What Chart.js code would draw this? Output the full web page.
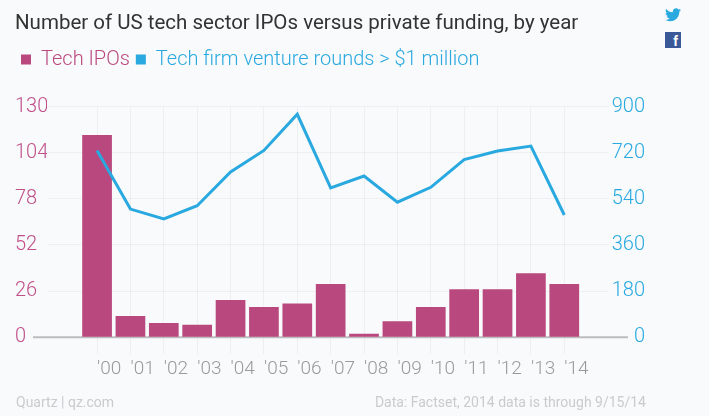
<!DOCTYPE html>
<html>
<head>
<meta charset="utf-8">
<script src="https://cdn.jsdelivr.net/npm/chart.js@4"></script>
<style>
    html, body { margin: 0; padding: 0; background: #f9fafb; }
    #wrap { position: relative; width: 709px; height: 416px; }
    #footLeft, #footRight {
        position: absolute; top: 394px; font: 14px Roboto, sans-serif; color: #c9cbcd;
    }
    #footLeft { left: 16px; }
    #footRight { right: 63px; }
    #tw { position: absolute; left: 665px; top: 8px; width: 16px; height: 14px; }
    #fb {
        position: absolute; left: 665px; top: 32px; width: 16px; height: 16px; background: #3b5998;
        color: #fff; font: bold 14px Arial, sans-serif; text-align: right; line-height: 19px; box-sizing: border-box; padding-right: 3px; overflow: hidden;
    }
</style>
</head>
<body>
<div id="wrap">
    <canvas id="chart" width="709" height="416"></canvas>
    <svg id="tw" viewBox="0 0 24 20"><path fill="#29a9e0" d="M24 2.4c-.9.4-1.8.6-2.8.8 1-.6 1.8-1.6 2.2-2.7-1 .6-2 1-3.1 1.2C19.3.7 18 0 16.6 0c-2.7 0-4.9 2.2-4.9 4.9 0 .4 0 .8.1 1.1C7.7 5.8 4.1 3.9 1.7.9c-.4.7-.7 1.6-.7 2.5 0 1.7.9 3.2 2.2 4.1-.8 0-1.6-.2-2.2-.6v.1c0 2.4 1.7 4.4 3.9 4.8-.4.1-.8.2-1.3.2-.3 0-.6 0-.9-.1.6 2 2.4 3.4 4.6 3.4-1.7 1.3-3.8 2.1-6.1 2.1-.4 0-.8 0-1.2-.1 2.2 1.4 4.8 2.2 7.5 2.2 9.1 0 14-7.5 14-14v-.6c1-.7 1.8-1.6 2.5-2.5z"/></svg>
    <div id="fb">f</div>
    <div id="footLeft">Quartz | qz.com</div>
    <div id="footRight">Data: Factset, 2014 data is through 9/15/14</div>
</div>
<script>
const years = ["'00", "'01", "'02", "'03", "'04", "'05", "'06", "'07", "'08", "'09", "'10", "'11", "'12", "'13", "'14"];
const techIPOs = [114, 12, 8, 7, 21, 17, 19, 30, 2, 9, 17, 27, 27, 36, 30];
const ventureRounds = [729, 500, 462, 513, 645, 729, 870, 583, 629, 527, 585, 693, 727, 746, 477];
const iposTicks = [0, 26, 52, 78, 104, 130];
const roundsTicks = [0, 180, 360, 540, 720, 900];

const pink = '#b9487f';
const blue = '#29a9e0';
const font = 'Roboto, sans-serif';

// gives the legend some room under it before the plot starts
const legendGap = {
    id: 'legendGap',
    beforeInit(chart) {
        const fit = chart.legend.fit;
        chart.legend.fit = function () {
            fit.bind(chart.legend)();
            this.height += 27;
        };
    }
};

// the grey zero line runs a little past the plot on both sides
const baseline = {
    id: 'baseline',
    beforeDatasetsDraw(chart) {
        const { ctx, chartArea } = chart;
        const y = chart.scales.y.getPixelForValue(0);
        ctx.save();
        ctx.strokeStyle = '#bdbdbd';
        ctx.lineWidth = 2;
        ctx.beginPath();
        ctx.moveTo(chartArea.left - 14, y);
        ctx.lineTo(chartArea.right + 19, y);
        ctx.stroke();
        ctx.restore();
    }
};

new Chart(document.getElementById('chart'), {
    type: 'bar',
    data: {
        datasets: [
            {
                type: 'line',
                label: 'Tech firm venture rounds > $1 million',
                data: ventureRounds.map((v, i) => ({ x: i, y: v })),
                borderColor: blue,
                backgroundColor: blue,
                borderWidth: 3,
                pointRadius: 0,
                tension: 0,
                yAxisID: 'y1',
                order: 0
            },
            {
                label: 'Tech IPOs',
                data: techIPOs.map((v, i) => ({ x: i, y: v })),
                backgroundColor: pink,
                categoryPercentage: 1,
                barPercentage: 0.89,
                yAxisID: 'y',
                order: 1
            }
        ]
    },
    options: {
        responsive: false,
        animation: false,
        layout: { padding: { left: 15, right: 64, top: 0, bottom: 31 } },
        plugins: {
            title: {
                display: true,
                text: 'Number of US tech sector IPOs versus private funding, by year',
                align: 'start',
                color: '#333',
                font: { family: font, size: 20.5, weight: 400 },
                padding: { top: 12, bottom: 7 }
            },
            legend: {
                align: 'start',
                reverse: true,
                labels: {
                    boxWidth: 10,
                    boxHeight: 10,
                    padding: 6,
                    font: { family: font, size: 20, weight: 300 },
                    generateLabels(chart) {
                        return chart.data.datasets.map((ds, i) => ({
                            text: ds.label,
                            fillStyle: i === 0 ? blue : pink,
                            strokeStyle: i === 0 ? blue : pink,
                            fontColor: i === 0 ? blue : pink,
                            lineWidth: 0,
                            datasetIndex: i
                        }));
                    }
                }
            },
            tooltip: { enabled: false }
        },
        scales: {
            x: {
                type: 'linear',
                offset: false,
                min: -1.5,
                max: 15.34,
                afterBuildTicks(axis) {
                    axis.ticks = years.map((_, i) => ({ value: i }));
                },
                ticks: {
                    callback: v => years[v],
                    align: 'start',
                    autoSkip: false,
                    maxRotation: 0,
                    padding: 4,
                    color: '#9a9a9a',
                    font: { family: font, size: 19, weight: 300 }
                },
                grid: { offset: false, color: 'rgba(0,0,0,0.045)', tickLength: 17, tickColor: 'rgba(0,0,0,0.045)' },
                border: { display: false }
            },
            y: {
                position: 'left',
                min: 0,
                max: 130,
                afterBuildTicks(axis) {
                    axis.ticks = iposTicks.map(v => ({ value: v }));
                },
                afterFit(axis) {
                    axis.width = 32;
                },
                ticks: {
                    crossAlign: 'far',
                    padding: 2,
                    color: '#c0508a',
                    font: { family: font, size: 20, weight: 300 }
                },
                grid: { color: 'rgba(0,0,0,0.04)', drawTicks: false },
                border: { display: false }
            },
            y1: {
                position: 'right',
                min: 0,
                max: 900,
                afterBuildTicks(axis) {
                    axis.ticks = roundsTicks.map(v => ({ value: v }));
                },
                afterFit(axis) {
                    axis.width = 36;
                },
                ticks: {
                    crossAlign: 'far',
                    padding: 4,
                    color: blue,
                    font: { family: font, size: 20, weight: 300 }
                },
                grid: { display: false },
                border: { display: false }
            }
        }
    },
    plugins: [legendGap, baseline]
});
</script>
</body>
</html>
